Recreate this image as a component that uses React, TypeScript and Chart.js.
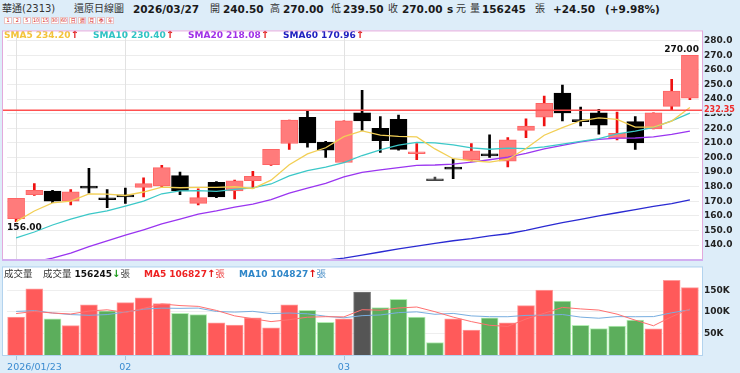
import React, { useEffect, useRef } from "react";
import { Chart, registerables } from "chart.js";
Chart.register(...registerables);

const BG = "#ddedf9";
const FAM = '"DejaVu Sans", "Noto Sans CJK TC", sans-serif';

const stockName = "華通";
const stockCode = "2313";
const chartTitle = "還原日線圖";
const periodButtons = ["1", "2", "5", "10", "15", "30", "60", "日", "週", "月", "季", "年"];

const dates = [
  "2026/01/23", "2026/01/26", "2026/01/27", "2026/01/28", "2026/01/29", "2026/01/30",
  "2026/02/02", "2026/02/03", "2026/02/04", "2026/02/05", "2026/02/06", "2026/02/09",
  "2026/02/10", "2026/02/11", "2026/02/23", "2026/02/24", "2026/02/25", "2026/02/26",
  "2026/03/02", "2026/03/03", "2026/03/04", "2026/03/05", "2026/03/06", "2026/03/09",
  "2026/03/10", "2026/03/11", "2026/03/12", "2026/03/13", "2026/03/16", "2026/03/17",
  "2026/03/18", "2026/03/19", "2026/03/20", "2026/03/23", "2026/03/24", "2026/03/25",
  "2026/03/26", "2026/03/27",
];

const opens = [158, 174.5, 177, 170, 179.5, 171.5, 173.5, 179.5, 180.5, 187.5, 168.5, 183, 177, 184, 195, 209.5, 227.5, 210.5, 196.5, 230.5, 220, 226, 202.5, 184, 192.5, 198.5, 201.5, 197.5, 218.5, 227.5, 244, 225.5, 230.5, 213, 224.5, 219.5, 235, 240.5];
const highs = [172, 182, 177.5, 178, 192.5, 178, 179, 186, 194.5, 190, 178.5, 183.5, 184.5, 190.5, 205.5, 225.5, 231.5, 211, 225, 246, 228, 229, 209.5, 186.5, 199, 209.5, 215.5, 213.5, 226.5, 242, 249.5, 234.5, 233, 231, 228, 230.5, 253.5, 270];
const lows = [156, 174, 169, 167.5, 175.5, 165.5, 168.5, 173, 179.5, 174.5, 167.5, 172.5, 171.5, 179, 194.5, 205.5, 207, 200, 196.5, 218.5, 203.5, 205, 198.5, 184, 185.5, 197.5, 200, 193.5, 213.5, 221.5, 225, 221.5, 216, 212, 205.5, 219.5, 232.5, 239.5];
const closes = [172, 177.5, 170, 176.5, 179, 171, 173, 182, 193, 177, 172.5, 173, 184, 187, 205.5, 225.5, 210, 205, 225, 225, 211.5, 205.5, 203, 184, 192, 204.5, 201, 212, 221.5, 237, 230.5, 224.5, 222, 216.5, 210, 230.5, 245.5, 270];

const sma5 = [156.0, 163.3, 168.9, 170.0, 175.0, 174.8, 173.9, 176.3, 179.6, 179.2, 179.5, 179.5, 179.9, 178.7, 184.4, 195.0, 202.4, 206.6, 214.2, 218.1, 215.3, 214.4, 214.0, 205.8, 199.1, 197.7, 196.8, 198.6, 206.1, 215.2, 220.4, 225.1, 227.1, 226.1, 220.7, 220.7, 224.9, 234.2];
const sma10 = [144.9, 148.9, 153.7, 157.7, 161.1, 163.3, 166.7, 170.0, 175.1, 177.1, 177.2, 176.7, 178.1, 179.2, 181.8, 187.3, 191.0, 193.3, 196.5, 201.3, 205.2, 208.4, 210.3, 210.0, 208.6, 206.5, 205.6, 206.3, 206.0, 207.2, 209.1, 211.0, 212.9, 216.1, 218.0, 220.6, 225.0, 230.4];
const sma20 = [125.5, 128.5, 131.0, 134.4, 138.9, 142.9, 146.7, 150.4, 154.4, 157.7, 161.1, 163.3, 166.0, 168.0, 171.1, 175.5, 178.9, 182.2, 186.7, 189.8, 191.5, 193.0, 194.6, 194.8, 195.4, 196.8, 198.4, 200.2, 202.8, 205.8, 208.3, 210.6, 212.3, 213.2, 213.3, 214.0, 215.8, 218.08];
const sma60 = [null, null, null, null, null, null, null, null, null, null, null, null, null, null, null, null, null, 129.6, 131.0, 133.0, 135.2, 137.4, 139.3, 141.1, 142.9, 144.4, 146.2, 147.7, 150.0, 152.7, 155.3, 157.6, 159.9, 162.1, 164.3, 166.5, 168.4, 170.96];

const volumes = [87600, 153600, 83800, 68000, 116000, 102600, 121400, 132700, 119000, 96600, 93600, 74800, 69600, 86000, 62800, 116000, 103400, 75700, 83800, 146000, 110000, 128800, 87600, 29000, 83800, 57600, 86000, 74800, 114600, 150700, 125200, 68900, 61300, 67300, 80900, 60600, 173200, 156245];
const volMa5 = [96000, 101000, 97300, 95000, 101800, 104800, 98400, 108100, 118300, 114500, 112700, 103300, 90700, 84100, 77400, 81800, 87600, 88800, 88300, 105000, 103800, 108900, 111200, 100300, 87800, 77400, 68800, 66200, 83400, 96700, 110300, 106800, 104100, 94700, 80700, 67800, 88700, 106827];
const volMa10 = [101000, 102700, 97300, 93700, 92000, 93700, 99500, 106300, 108600, 108100, 108700, 100900, 99400, 101200, 95900, 97300, 95500, 89800, 86200, 91200, 92800, 98200, 100000, 94300, 96400, 90600, 88800, 88700, 91800, 92300, 93800, 87800, 85200, 89000, 88700, 89000, 97800, 104827];

const priceTicks = [140, 150, 160, 170, 180, 190, 200, 210, 220, 230, 240, 250, 260, 270, 280];
const volTicks = [50000, 100000, 150000];
const refPrice = 232.35;

const smaSeries = [
  { name: "SMA5", data: sma5, line: "#f2cf55", text: "#f3c33a" },
  { name: "SMA10", data: sma10, line: "#3cc8c8", text: "#2ec4c4" },
  { name: "SMA20", data: sma20, line: "#9a35f0", text: "#a030e8" },
  { name: "SMA60", data: sma60, line: "#2a2ad2", text: "#2020c0" },
];
const smaLegendX = [4, 93, 188, 283];

const UP_BODY = "#ff7b7b";
const UP_EDGE = "#ff6464";
const UP_WICK = "#ee1111";
const DOWN = "#000000";
const FLAT = "#444444";

const last = dates.length - 1;
const monthIdx = dates.map((d, i) => (i === 0 || d.slice(5, 7) !== dates[i - 1].slice(5, 7) ? i : -1)).filter((i) => i >= 0);

function candleDir(i: number) {
  return closes[i] > opens[i] ? 1 : closes[i] < opens[i] ? -1 : 0;
}
function volDir(i: number) {
  if (i === 0) return 1;
  return closes[i] > closes[i - 1] ? 1 : closes[i] < closes[i - 1] ? -1 : 0;
}

function drawSegs(ctx: CanvasRenderingContext2D, x: number, y: number, segs: [string, string, string][]) {
  ctx.textBaseline = "middle";
  ctx.textAlign = "left";
  for (const [t, c, f] of segs) {
    ctx.font = f;
    ctx.fillStyle = c;
    ctx.fillText(t, x, y);
    x += ctx.measureText(t).width;
  }
}

const B9 = `bold 9px ${FAM}`;
const B10 = `bold 10px ${FAM}`;
const N9 = `9.5px ${FAM}`;

const pricePlugin = {
  id: "pricePlugin",
  beforeDraw(chart: any) {
    const { ctx, chartArea: a } = chart;
    ctx.save();
    ctx.fillStyle = "#ffffff";
    ctx.fillRect(a.left - 4, a.top, a.right - a.left + 7.5, a.bottom - a.top);
    ctx.restore();
  },
  beforeDatasetsDraw(chart: any) {
    const { ctx, chartArea: a, scales } = chart;
    ctx.save();
    ctx.strokeStyle = "#e2e2e2";
    ctx.lineWidth = 1;
    for (const i of monthIdx) {
      const x = Math.round(scales.x.getPixelForValue(i)) + 0.5;
      ctx.beginPath();
      ctx.moveTo(x, a.top);
      ctx.lineTo(x, a.bottom);
      ctx.stroke();
    }
    ctx.restore();
  },
  afterDatasetsDraw(chart: any) {
    const { ctx, chartArea: a, scales } = chart;
    const ys = scales.y;
    ctx.save();
    const ry = ys.getPixelForValue(refPrice);
    ctx.strokeStyle = "#ff5050";
    ctx.lineWidth = 1.5;
    ctx.beginPath();
    ctx.moveTo(a.left - 4, ry);
    ctx.lineTo(a.right + 3.5, ry);
    ctx.stroke();
    ctx.restore();
  },
  afterDraw(chart: any) {
    const { ctx, chartArea: a, scales } = chart;
    const ys = scales.y;
    const xs = scales.x;
    ctx.save();
    const ry = ys.getPixelForValue(refPrice);
    ctx.fillStyle = BG;
    ctx.fillRect(a.right + 4, ry - 4.5, 36, 8);
    ctx.font = `bold 8px ${FAM}`;
    ctx.fillStyle = "#ee2a2a";
    ctx.textBaseline = "middle";
    ctx.textAlign = "left";
    ctx.fillText(refPrice.toFixed(2), a.right + 5, ry);

    let hi = 0, lo = 0;
    highs.forEach((v, i) => { if (v > highs[hi]) hi = i; });
    lows.forEach((v, i) => { if (v < lows[lo]) lo = i; });
    ctx.font = B9;
    ctx.fillStyle = "#111";
    ctx.textAlign = "right";
    ctx.textBaseline = "alphabetic";
    ctx.fillText(highs[hi].toFixed(2), xs.getPixelForValue(hi) + 9, ys.getPixelForValue(highs[hi]) - 3);
    ctx.textAlign = "left";
    ctx.textBaseline = "top";
    ctx.fillText(lows[lo].toFixed(2), xs.getPixelForValue(lo) - 9, ys.getPixelForValue(lows[lo]) + 2);

    smaSeries.forEach((s, k) => {
      const v = s.data[last] as number;
      const p = s.data[last - 1] as number;
      const up = v >= p;
      drawSegs(ctx, smaLegendX[k], a.top + 5.5, [
        [`${s.name} ${v.toFixed(2)}`, s.text, B9],
        [up ? "↑" : "↓", up ? "#e01010" : "#10a010", B10],
      ]);
    });

    ctx.strokeStyle = "#e3a9dc";
    ctx.lineWidth = 1;
    ctx.strokeRect(a.left - 4.5, a.top + 0.5, a.right - a.left + 8, a.bottom - a.top);
    ctx.strokeStyle = "#d2aef0";
    ctx.lineWidth = 2;
    ctx.beginPath();
    ctx.moveTo(a.left - 5, a.bottom + 0.5);
    ctx.lineTo(a.right + 4, a.bottom + 0.5);
    ctx.stroke();
    ctx.restore();
  },
};

const volPlugin = {
  id: "volPlugin",
  beforeDraw(chart: any) {
    const { ctx, chartArea: a } = chart;
    ctx.save();
    ctx.fillStyle = "#ffffff";
    ctx.fillRect(a.left - 4, a.top, a.right - a.left + 7.5, a.bottom - a.top);
    ctx.restore();
  },
  afterDraw(chart: any) {
    const { ctx, chartArea: a, scales } = chart;
    const xs = scales.x;
    ctx.save();
    ctx.strokeStyle = "#b3d3ee";
    ctx.lineWidth = 1;
    ctx.strokeRect(a.left - 4.5, a.top - 0.5, a.right - a.left + 8, a.bottom - a.top + 1);

    ctx.font = N9;
    ctx.fillStyle = "#3b8bd0";
    ctx.textBaseline = "middle";
    for (const i of monthIdx) {
      const x = xs.getPixelForValue(i);
      ctx.strokeStyle = "#a9c4dc";
      ctx.beginPath();
      ctx.moveTo(Math.round(x) + 0.5, a.bottom + 1);
      ctx.lineTo(Math.round(x) + 0.5, a.bottom + 5);
      ctx.stroke();
      if (i === 0) {
        ctx.textAlign = "left";
        ctx.fillText(dates[i], x - 9, a.bottom + 12.5);
      } else {
        ctx.textAlign = "center";
        ctx.fillText(dates[i].slice(5, 7), x, a.bottom + 12.5);
      }
    }

    const ly = a.top + 7.5;
    const vUp = volumes[last] >= volumes[last - 1];
    const m5Up = volMa5[last] >= volMa5[last - 1];
    const m10Up = volMa10[last] >= volMa10[last - 1];
    drawSegs(ctx, 4, ly, [["成交量", "#333", N9]]);
    drawSegs(ctx, 43, ly, [
      ["成交量 ", "#333", N9],
      [String(volumes[last]), "#111", B9],
      [vUp ? "↑" : "↓", vUp ? "#e01010" : "#1a9a1a", B10],
      ["張", "#444", N9],
    ]);
    drawSegs(ctx, 144, ly, [
      [`MA5 ${volMa5[last]}`, "#ee2222", B9],
      [m5Up ? "↑" : "↓", m5Up ? "#e01010" : "#1a9a1a", B10],
      ["張", "#ee4444", N9],
    ]);
    drawSegs(ctx, 239, ly, [
      [`MA10 ${volMa10[last]}`, "#2f86c8", B9],
      [m10Up ? "↑" : "↓", m10Up ? "#e01010" : "#1a9a1a", B10],
      ["張", "#4a90c8", N9],
    ]);
    ctx.restore();
  },
};

function priceConfig(): any {
  const body = dates.map((_, i) => [Math.min(opens[i], closes[i]), Math.max(opens[i], closes[i])]);
  const wick = dates.map((_, i) => [lows[i], highs[i]]);
  const bodyFill = dates.map((_, i) => (candleDir(i) > 0 ? UP_BODY : candleDir(i) < 0 ? DOWN : FLAT));
  const bodyEdge = dates.map((_, i) => (candleDir(i) > 0 ? UP_EDGE : candleDir(i) < 0 ? DOWN : FLAT));
  const wickCol = dates.map((_, i) => (candleDir(i) > 0 ? UP_WICK : candleDir(i) < 0 ? DOWN : FLAT));
  return {
    type: "bar",
    data: {
      labels: dates,
      datasets: [
        ...smaSeries.map((s, k) => ({
          type: "line",
          label: s.name,
          data: s.data,
          borderColor: s.line,
          borderWidth: 1.3,
          pointRadius: 0,
          tension: 0,
          order: k,
        })),
        {
          type: "bar",
          label: "body",
          data: body,
          backgroundColor: bodyFill,
          borderColor: bodyEdge,
          borderWidth: 1,
          borderSkipped: false,
          barThickness: 17,
          minBarLength: 2,
          grouped: false,
          order: 10,
        },
        {
          type: "bar",
          label: "wick",
          data: wick,
          backgroundColor: wickCol,
          borderWidth: 0,
          barThickness: 2,
          grouped: false,
          order: 11,
        },
      ],
    },
    options: {
      responsive: false,
      animation: false,
      layout: { padding: { left: 7, right: 0, top: 8, bottom: 7 } },
      plugins: { legend: { display: false }, tooltip: { enabled: false } },
      scales: {
        x: {
          type: "category",
          offset: true,
          grid: { display: false },
          ticks: { display: false, autoSkip: false },
          border: { display: false },
          afterFit: (s: any) => { s.height = 0; },
        },
        y: {
          position: "right",
          min: 130,
          max: 287,
          afterBuildTicks: (s: any) => { s.ticks = priceTicks.map((v) => ({ value: v })); },
          ticks: {
            callback: (v: any) => Number(v).toFixed(1),
            font: { family: FAM, size: 9, weight: "bold" },
            color: "#222",
            padding: 5,
          },
          grid: { color: "#ececec", drawTicks: false },
          border: { display: false },
          afterFit: (s: any) => { s.width = 41; },
        },
      },
    },
    plugins: [pricePlugin],
  };
}

function volConfig(): any {
  const fill = dates.map((_, i) => (volDir(i) > 0 ? "#ff5a5a" : volDir(i) < 0 ? "#5cae5c" : "#555555"));
  const edge = dates.map((_, i) => (volDir(i) > 0 ? "#ff9b9b" : volDir(i) < 0 ? "#b5eeb5" : "#7a7a7a"));
  return {
    type: "bar",
    data: {
      labels: dates,
      datasets: [
        { type: "line", label: "MA5", data: volMa5, borderColor: "#ff7070", borderWidth: 1, pointRadius: 0, order: 0 },
        { type: "line", label: "MA10", data: volMa10, borderColor: "#78aee0", borderWidth: 1, pointRadius: 0, order: 1 },
        {
          type: "bar",
          label: "vol",
          data: volumes,
          backgroundColor: fill,
          borderColor: edge,
          borderWidth: 1,
          borderSkipped: "bottom",
          barThickness: 17,
          order: 5,
        },
      ],
    },
    options: {
      responsive: false,
      animation: false,
      layout: { padding: { left: 7, right: 0, top: 8, bottom: 18 } },
      plugins: { legend: { display: false }, tooltip: { enabled: false } },
      scales: {
        x: {
          type: "category",
          offset: true,
          grid: { display: false },
          ticks: { display: false, autoSkip: false },
          border: { display: false },
          afterFit: (s: any) => { s.height = 0; },
        },
        y: {
          position: "right",
          min: 0,
          max: 203000,
          afterBuildTicks: (s: any) => { s.ticks = volTicks.map((v) => ({ value: v })); },
          ticks: {
            callback: (v: any) => `${Math.round(Number(v) / 1000)}K`,
            font: { family: FAM, size: 9, weight: "bold" },
            color: "#222",
            padding: 5,
          },
          grid: { color: "#eeeeee", drawTicks: false },
          border: { display: false },
          afterFit: (s: any) => { s.width = 41; },
        },
      },
    },
    plugins: [volPlugin],
  };
}

const hdrCjk: React.CSSProperties = { position: "absolute", top: 3, fontSize: 10, lineHeight: "12px", color: "#333", whiteSpace: "pre" };
const hdrNum: React.CSSProperties = { position: "absolute", top: 3, fontSize: 10.5, lineHeight: "12px", fontWeight: "bold", color: "#1a1a1a", whiteSpace: "pre" };

export default function App() {
  const priceRef = useRef<HTMLCanvasElement>(null);
  const volRef = useRef<HTMLCanvasElement>(null);

  useEffect(() => {
    const pc = new Chart(priceRef.current as HTMLCanvasElement, priceConfig());
    const vc = new Chart(volRef.current as HTMLCanvasElement, volConfig());
    return () => {
      pc.destroy();
      vc.destroy();
    };
  }, []);

  const chg = closes[last] - closes[last - 1];
  const pct = (chg / closes[last - 1]) * 100;
  const sign = chg >= 0 ? "+" : "-";

  return (
    <div style={{ position: "absolute", left: 0, top: 0, width: 740, height: 373, background: BG, overflow: "hidden", fontFamily: FAM }}>
      <span style={{ ...hdrCjk, left: 2 }}>{`${stockName}(${stockCode})`}</span>
      <span style={{ ...hdrCjk, left: 74 }}>{chartTitle}</span>
      <span style={{ ...hdrNum, left: 133 }}>{dates[last]}</span>
      <span style={{ ...hdrCjk, left: 210 }}>開</span>
      <span style={{ ...hdrNum, left: 223 }}>{opens[last].toFixed(2)}</span>
      <span style={{ ...hdrCjk, left: 270 }}>高</span>
      <span style={{ ...hdrNum, left: 283 }}>{highs[last].toFixed(2)}</span>
      <span style={{ ...hdrCjk, left: 331 }}>低</span>
      <span style={{ ...hdrNum, left: 343 }}>{lows[last].toFixed(2)}</span>
      <span style={{ ...hdrCjk, left: 388 }}>收</span>
      <span style={{ ...hdrNum, left: 402 }}>{closes[last].toFixed(2)}</span>
      <span style={{ ...hdrNum, left: 447 }}>s</span>
      <span style={{ ...hdrCjk, left: 456 }}>元</span>
      <span style={{ ...hdrCjk, left: 470 }}>量</span>
      <span style={{ ...hdrNum, left: 482 }}>{String(volumes[last])}</span>
      <span style={{ ...hdrCjk, left: 535 }}>張</span>
      <span style={{ ...hdrNum, left: 553 }}>{`${sign}${Math.abs(chg).toFixed(2)}`}</span>
      <span style={{ ...hdrNum, left: 605 }}>{`(${sign}${Math.abs(pct).toFixed(2)}%)`}</span>
      {periodButtons.map((b, k) => (
        <span
          key={b}
          style={{
            position: "absolute",
            left: 4 + k * 9.3,
            top: 17,
            width: 8,
            height: 7,
            boxSizing: "border-box",
            border: "1px solid #eac6c6",
            background: "#fff",
            color: "#d42020",
            fontSize: 5,
            lineHeight: "5px",
            textAlign: "center",
            overflow: "hidden",
            whiteSpace: "nowrap",
            letterSpacing: -0.3,
          }}
        >
          {b}
        </span>
      ))}
      <div style={{ position: "absolute", left: 0, top: 20, width: 740, height: 250 }}>
        <canvas ref={priceRef} width={740} height={250} style={{ width: 740, height: 250, display: "block" }} />
      </div>
      <div style={{ position: "absolute", left: 0, top: 257, width: 740, height: 116 }}>
        <canvas ref={volRef} width={740} height={116} style={{ width: 740, height: 116, display: "block" }} />
      </div>
    </div>
  );
}
